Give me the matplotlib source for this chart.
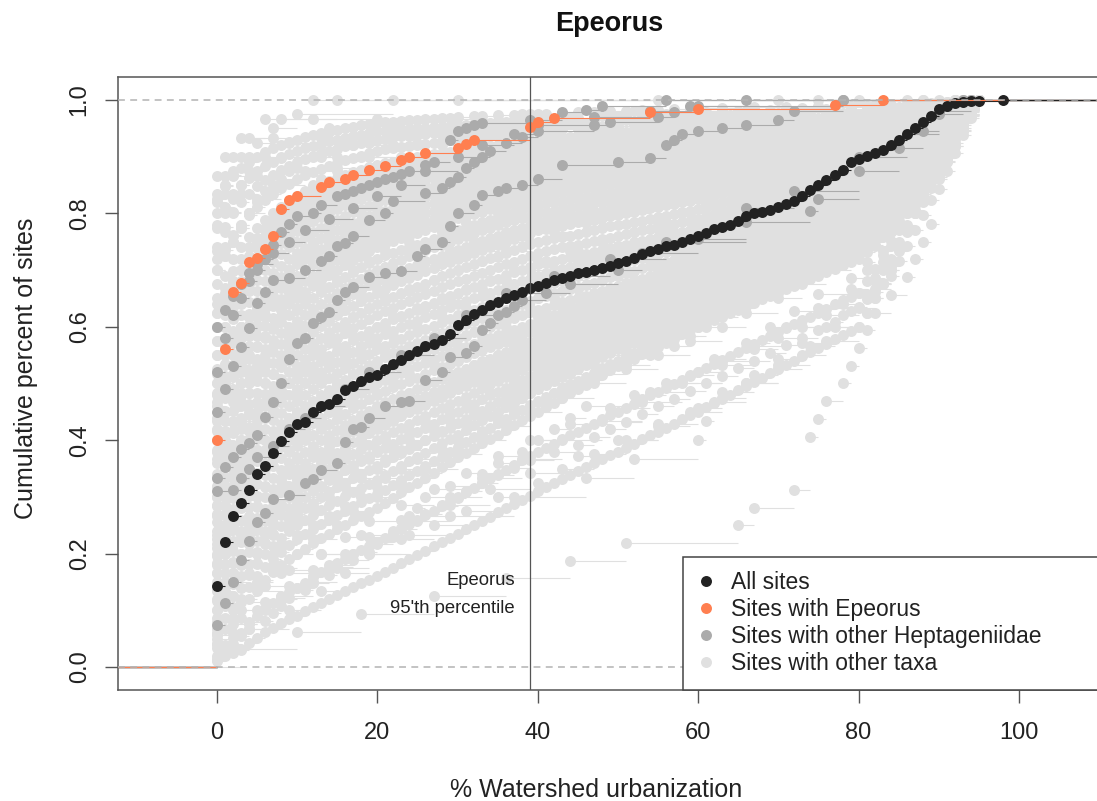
import numpy as np
import matplotlib
matplotlib.use("Agg")
import matplotlib.pyplot as plt
from matplotlib.lines import Line2D

plt.rcParams["font.family"] = ["Liberation Sans", "DejaVu Sans"]

LIGHT = "#E0E0E0"   # sites with other taxa
DARK = "#ABABAB"    # sites with other Heptageniidae
BLACK = "#222222"   # all sites
ORANGE = "#FF7F50"  # sites with Epeorus

# ---------------- data ----------------
# ECDF knots, % watershed urbanization vs cumulative fraction of sites
epeorus_x = [0, 1, 2, 3, 4, 5, 6, 7, 8, 9, 10, 13, 14, 16, 17, 19, 21, 23, 24, 26,
             30, 31, 32, 39, 40, 42, 54, 60, 77, 83]
epeorus_y = [0.40, 0.561, 0.661, 0.678, 0.715, 0.722, 0.738, 0.761, 0.807, 0.824,
             0.831, 0.847, 0.855, 0.861, 0.868, 0.877, 0.884, 0.894, 0.899, 0.907,
             0.915, 0.923, 0.929, 0.953, 0.962, 0.969, 0.978, 0.984, 0.992, 1.0]

all_x = ("0 1 2 3 4 5 6 7 8 9 10 11 12 13 14 15 16 17 18 19 20 21 22 23 24 25 26 27 28 29 "
         "30 31 32 33 34 35 36 37 38 39 40 41 42 43 44 45 46 47 48 49 50 51 52 53 54 55 56 "
         "57 58 59 60 61 62 63 64 65 66 67 68 69 70 71 72 73 74 75 76 77 78 79 80 81 82 83 "
         "84 85 86 87 88 89 90 91 92 93 94 95 98")
all_y = [0.143, 0.221, 0.266, 0.290, 0.312, 0.340, 0.354, 0.378, 0.399, 0.414,
         0.428, 0.432, 0.449, 0.460, 0.463, 0.472, 0.489, 0.496, 0.505, 0.512,
         0.515, 0.525, 0.535, 0.542, 0.550, 0.558, 0.566, 0.570, 0.576, 0.588,
         0.603, 0.612, 0.622, 0.630, 0.638, 0.644, 0.650, 0.656, 0.662, 0.668,
         0.672, 0.677, 0.682, 0.686, 0.690, 0.694, 0.697, 0.700, 0.703, 0.707,
         0.712, 0.716, 0.722, 0.728, 0.733, 0.738, 0.742, 0.745, 0.750, 0.754,
         0.760, 0.766, 0.772, 0.776, 0.780, 0.786, 0.796, 0.800, 0.803, 0.806,
         0.812, 0.816, 0.822, 0.830, 0.841, 0.850, 0.859, 0.868, 0.877, 0.890,
         0.896, 0.902, 0.906, 0.912, 0.921, 0.930, 0.940, 0.950, 0.961, 0.972,
         0.984, 0.990, 0.994, 0.997, 0.998, 0.999, 1.0]

heptag_x = [
    [0, 1, 2, 3, 4, 5, 6, 7, 8, 9, 10, 12, 13, 15, 16, 17, 18, 19, 20, 21, 22, 23, 24, 26,
     27, 29, 30, 31, 32, 33, 39, 43, 46, 48, 56],
    [0, 1, 2, 3, 4, 5, 6, 7, 9, 11, 13, 14, 15, 16, 17, 19, 21, 22, 26, 28, 29, 30, 31, 32,
     33, 34, 36, 38, 40, 47, 49, 55, 57, 60, 78],
    [0, 1, 2, 3, 4, 5, 6, 7, 8, 9, 10, 11, 12, 13, 14, 15, 16, 17, 19, 21, 23, 25, 26, 28,
     29, 30, 32, 33, 35, 36, 38, 40, 43, 50, 54, 56, 57, 58, 60, 63, 66, 70, 72, 78],
    [0, 1, 2, 3, 4, 5, 6, 7, 9, 11, 12, 13, 15, 16, 17, 18, 19, 21, 23, 24, 26, 28, 29, 31,
     32, 33, 34, 35, 36, 37, 38, 41, 44, 50, 53, 60, 66, 74, 75, 80, 85, 88, 90, 93],
    [0, 2, 3, 4, 5, 7, 9, 11, 13, 16, 19, 23, 27, 31, 36, 42, 49, 56, 66, 72, 80, 86, 90, 94],
    [0, 1, 2, 3, 4, 5, 7, 9, 11, 14, 17, 20, 23, 26, 30, 33, 37, 40, 47, 54, 59, 66],
]
heptag_y = [
    [0.52, 0.58, 0.62, 0.65, 0.68, 0.70, 0.72, 0.745, 0.768, 0.782, 0.795, 0.80, 0.815,
     0.83, 0.835, 0.84, 0.845, 0.85, 0.855, 0.86, 0.865, 0.87, 0.875, 0.885, 0.89, 0.93,
     0.945, 0.95, 0.955, 0.96, 0.965, 0.979, 0.983, 0.99, 1.0],
    [0.45, 0.49, 0.53, 0.565, 0.598, 0.642, 0.662, 0.683, 0.686, 0.70, 0.716, 0.724, 0.742,
     0.748, 0.761, 0.788, 0.80, 0.822, 0.836, 0.845, 0.855, 0.865, 0.88, 0.89, 0.90, 0.91,
     0.925, 0.935, 0.945, 0.955, 0.962, 0.97, 0.978, 0.99, 1.0],
    [0.333, 0.353, 0.37, 0.385, 0.395, 0.409, 0.441, 0.468, 0.50, 0.543, 0.572, 0.581,
     0.606, 0.618, 0.626, 0.648, 0.661, 0.671, 0.688, 0.694, 0.698, 0.724, 0.738, 0.75,
     0.778, 0.80, 0.815, 0.832, 0.84, 0.845, 0.85, 0.86, 0.886, 0.89, 0.897, 0.92, 0.93,
     0.94, 0.945, 0.95, 0.955, 0.965, 0.98, 1.0],
    [0.074, 0.113, 0.15, 0.189, 0.222, 0.256, 0.271, 0.297, 0.303, 0.324, 0.331, 0.347,
     0.359, 0.397, 0.419, 0.424, 0.44, 0.46, 0.468, 0.47, 0.506, 0.521, 0.547, 0.554,
     0.566, 0.594, 0.607, 0.621, 0.626, 0.637, 0.647, 0.66, 0.675, 0.70, 0.73, 0.755,
     0.785, 0.805, 0.825, 0.875, 0.915, 0.945, 0.975, 1.0],
    [0.31, 0.312, 0.333, 0.35, 0.37, 0.39, 0.42, 0.44, 0.46, 0.49, 0.52, 0.55, 0.58, 0.62,
     0.66, 0.69, 0.72, 0.75, 0.81, 0.84, 0.90, 0.94, 0.98, 1.0],
    [0.60, 0.63, 0.655, 0.675, 0.695, 0.71, 0.73, 0.75, 0.77, 0.79, 0.81, 0.83, 0.85, 0.875,
     0.90, 0.92, 0.94, 0.955, 0.97, 0.98, 0.99, 1.0],
]

# other taxa, large ones: sites at 0 % urbanization, then number of sites at 1 %, 2 %, ... 95 %
dense_zero = [820, 780, 740, 700, 650, 625, 600, 575, 550, 525, 500, 480, 460, 440, 420, 400,
              380, 360, 340, 320, 300, 285, 270, 255, 240, 225, 210, 195, 180, 165, 150, 135,
              120, 100, 80, 60, 40, 20, 10]
dense_counts = [
    "28 19 13 11 9 8 7 6 5 4 4 4 3 3 3 3 3 3 2 2 1 1 1 1 1 1 1 1 1 1 0 1 1 0 1 0 1 0 1 0 "
    "1 0 1 0 1 0 1 0 1 0 1 0 1 0 1 0 1 0 1 0 0 0 1 0 0 0 1 0 0 0 1 0 0 0 1 0 0 0 1 0 "
    "0 1 0 1 0 1 0 1 0 1 1 1 1 1 1",
    "32 22 16 13 11 9 8 7 6 6 5 4 4 4 3 3 3 3 3 3 1 1 1 1 1 1 1 1 1 1 1 1 1 1 1 1 1 1 1 1 "
    "1 1 0 1 1 0 1 1 0 1 1 0 1 1 0 1 1 0 1 0 1 0 1 0 1 0 1 0 1 0 1 0 1 0 1 0 1 0 1 0 "
    "1 0 1 1 0 1 1 0 1 1 1 1 1 1 1",
    "36 26 18 15 13 11 9 8 7 7 6 5 5 4 4 4 3 3 3 3 2 2 2 1 2 1 1 1 1 1 1 1 1 1 1 1 1 1 1 2 "
    "1 1 1 0 1 1 1 0 1 1 1 0 1 1 1 0 1 1 1 0 1 1 0 1 1 0 1 1 0 1 1 0 1 1 0 1 1 0 1 0 "
    "1 1 1 1 1 1 1 1 1 1 2 2 1 1 1",
    "36 26 18 17 15 12 11 9 8 8 7 6 6 5 5 5 4 4 4 4 3 2 2 2 2 2 2 2 2 2 2 1 2 1 2 1 2 1 1 1 "
    "1 1 1 0 1 1 1 1 1 1 0 1 1 1 1 1 1 0 1 1 1 1 1 1 0 1 1 1 1 0 1 1 1 1 0 1 1 1 1 0 "
    "1 1 1 1 1 1 1 2 1 2 3 2 2 2 1",
    "40 29 21 19 16 14 12 11 9 9 8 7 6 6 6 5 5 4 4 4 3 3 3 3 3 3 2 2 2 2 2 2 2 2 2 2 2 2 1 2 "
    "2 1 1 1 1 1 1 1 1 1 2 1 1 1 1 1 1 1 1 1 1 1 1 1 1 1 1 1 1 1 1 1 1 1 1 1 1 1 1 1 "
    "1 2 1 2 1 2 1 2 2 2 3 3 2 2 2",
    "44 30 21 20 17 15 13 11 10 9 8 7 7 6 6 5 5 5 4 4 4 3 3 3 3 3 3 3 2 2 3 2 2 2 2 2 2 2 2 2 "
    "2 1 1 1 2 1 1 1 2 1 1 1 2 1 1 1 1 1 1 1 1 1 1 1 1 2 1 1 1 1 1 1 1 1 1 2 1 1 1 1 "
    "1 2 1 2 2 2 2 2 2 2 4 3 3 2 2",
    "45 32 23 21 18 15 13 12 11 10 8 7 7 6 6 6 5 5 5 5 4 4 3 3 3 3 3 3 3 3 3 3 2 2 2 2 2 2 3 2 "
    "2 2 1 1 1 1 2 1 1 1 1 2 1 1 1 1 2 1 1 1 2 1 1 1 2 1 1 1 2 1 1 1 2 1 1 1 2 1 1 1 "
    "2 2 2 2 2 2 2 2 2 2 4 3 3 3 2",
    "48 34 23 22 19 16 14 13 11 10 9 8 7 7 6 6 5 5 5 4 4 4 4 3 3 3 3 3 3 3 3 3 3 3 3 3 3 2 2 2 "
    "2 1 2 1 2 1 1 2 1 1 2 1 1 2 1 1 2 1 1 1 1 2 1 1 2 1 1 2 1 1 2 1 1 2 1 1 2 1 2 2 "
    "2 2 2 2 2 2 2 2 3 3 4 4 3 3 2",
    "50 35 25 23 20 17 15 13 12 10 9 8 8 7 7 6 6 5 5 4 4 4 4 4 4 4 4 3 3 3 3 3 3 3 3 3 3 3 2 2 "
    "2 2 2 2 1 2 1 2 1 2 1 1 1 1 1 2 1 1 1 2 2 1 2 1 2 1 2 1 2 1 2 1 2 1 2 1 2 1 2 1 "
    "2 2 2 2 3 2 3 2 3 3 5 4 4 3 2",
    "52 37 26 23 20 17 15 13 12 10 9 8 8 7 7 7 6 6 5 5 5 4 4 4 4 4 4 4 4 4 3 3 3 3 3 3 3 3 3 4 "
    "2 2 1 2 1 2 1 2 1 2 1 2 1 2 1 2 1 2 1 2 2 1 2 2 1 2 2 1 2 2 1 2 2 1 2 2 1 2 1 2 "
    "2 2 2 3 3 3 3 3 2 3 5 4 4 4 3",
    "54 38 28 23 20 17 15 13 12 10 9 9 8 7 7 7 6 6 6 5 5 5 5 5 5 4 4 4 4 4 4 4 4 4 4 3 3 3 3 3 "
    "2 2 1 2 2 1 2 2 1 2 2 1 2 2 1 2 2 1 2 1 2 2 2 1 2 2 2 2 2 1 2 2 2 2 2 1 2 2 2 2 "
    "2 2 3 3 3 3 3 3 3 3 6 5 4 4 3",
    "54 38 28 23 20 17 15 13 12 10 10 9 8 8 8 7 7 6 6 6 5 5 5 5 5 4 4 4 4 4 4 4 4 4 4 4 4 4 3 3 "
    "2 2 1 2 2 2 2 1 2 2 2 2 1 2 2 2 2 1 2 2 2 2 3 2 2 2 2 2 2 2 2 2 2 2 2 2 2 2 2 2 "
    "3 3 3 3 3 3 3 3 4 4 6 5 5 4 3",
    "54 38 28 23 20 17 15 13 12 10 10 10 9 8 8 8 7 7 7 6 5 5 5 5 5 5 5 4 4 4 4 4 4 4 4 4 4 3 3 4 "
    "2 3 2 1 2 2 3 2 1 2 2 3 2 1 2 2 3 2 1 2 3 2 2 2 2 3 2 2 2 2 3 2 2 2 2 3 2 2 2 3 "
    "3 3 3 3 4 3 4 4 4 4 7 6 5 4 3",
    "54 38 28 24 20 17 15 13 11 10 10 10 9 9 9 8 8 8 7 7 5 5 5 5 5 5 5 5 4 4 4 4 4 4 4 4 4 4 4 3 "
    "2 2 3 3 2 2 2 2 2 3 3 2 2 2 2 2 2 2 2 1 3 2 3 2 3 2 3 2 3 2 3 2 3 2 3 2 3 2 3 2 "
    "3 3 4 4 4 4 4 4 3 4 7 6 6 5 4",
    "54 38 28 24 20 17 15 13 11 10 11 11 10 9 9 9 8 8 8 7 6 5 5 5 5 5 5 5 5 5 4 4 4 4 4 4 4 4 4 3 "
    "3 2 2 2 3 2 2 2 3 2 2 2 3 2 2 2 3 2 2 2 3 3 3 3 3 2 3 3 2 3 3 2 3 3 2 3 3 2 3 3 "
    "4 4 4 4 4 4 4 4 4 4 8 7 6 5 4",
    "52 39 29 23 21 17 15 13 11 10 11 10 10 9 9 9 9 8 8 7 6 5 5 5 4 5 5 5 5 5 5 5 5 4 5 5 4 4 4 4 "
    "3 2 2 3 2 2 3 2 2 3 2 2 3 2 2 3 2 2 3 3 3 3 4 3 2 3 3 4 3 2 3 3 4 3 2 3 3 4 3 2 "
    "4 4 4 4 5 5 5 5 4 5 8 7 6 6 5",
    "54 38 28 24 20 17 15 13 11 10 11 10 10 10 9 9 8 8 8 7 6 6 6 6 6 5 5 5 5 5 5 5 5 5 5 4 4 4 4 4 "
    "3 2 3 2 3 2 3 2 3 2 3 2 3 2 3 2 3 2 3 2 3 3 3 4 3 4 3 3 3 3 4 3 3 3 3 4 3 3 3 4 "
    "4 4 5 5 5 5 5 5 6 6 9 8 7 6 5",
    "54 38 28 24 20 17 15 13 11 10 11 10 10 9 9 9 9 8 8 7 6 6 6 6 5 6 5 5 5 5 6 5 5 5 4 5 5 5 5 5 "
    "3 2 3 2 3 2 3 2 3 2 3 2 3 2 3 2 3 3 3 3 4 3 4 3 4 3 4 3 4 3 4 3 4 3 4 3 4 3 4 3 "
    "5 5 5 5 6 6 6 6 5 6 9 8 8 7 6",
    "54 38 28 24 20 17 15 13 11 10 11 10 10 10 9 9 8 8 8 7 7 7 6 6 6 6 6 6 5 5 5 5 5 5 5 5 5 5 5 5 "
    "3 3 2 3 3 3 2 3 3 3 2 3 3 3 2 3 3 3 2 3 4 3 4 4 4 3 4 4 4 3 4 4 4 3 4 4 4 3 4 4 "
    "5 5 6 6 6 6 6 6 7 7 10 9 8 7 6",
    "54 38 28 24 20 17 15 13 11 10 11 10 10 9 9 9 9 8 8 7 6 7 6 5 6 6 7 6 5 6 5 5 6 5 4 5 5 6 5 4 "
    "3 3 2 3 3 3 4 3 3 2 3 3 2 3 3 3 3 3 2 3 4 4 5 4 4 4 4 5 4 4 4 4 5 4 4 4 4 5 4 3 "
    "6 6 6 7 7 7 7 7 7 8 10 9 9 8 6",
    "52 40 28 25 19 17 14 13 12 10 11 10 10 10 9 9 8 8 8 7 7 7 6 6 6 6 6 6 5 5 5 5 5 5 5 5 5 5 5 5 "
    "3 4 3 2 3 3 4 3 2 3 3 4 3 2 3 3 4 3 2 3 5 4 5 4 5 4 5 4 5 4 5 4 5 4 5 4 5 4 5 4 "
    "6 6 7 7 7 8 8 8 9 9 11 10 9 8 7",
    "50 38 27 23 20 17 15 13 12 10 10 10 10 9 9 9 9 8 8 8 7 6 6 6 5 6 6 6 6 6 5 5 5 5 5 6 5 5 5 4 "
    "3 3 3 4 3 3 3 4 3 3 3 4 3 3 3 4 3 3 3 4 5 4 5 5 5 6 5 4 5 5 5 6 5 4 5 4 5 4 4 4 "
    "7 7 8 8 8 9 9 9 9 9 12 10 9 8 8",
    "50 35 25 23 20 17 15 13 12 10 10 10 10 9 9 9 9 8 8 8 7 6 6 6 6 6 6 6 6 5 5 5 5 5 5 5 5 5 5 5 "
    "4 4 4 4 4 4 4 4 4 4 3 3 3 3 3 3 3 3 3 3 5 5 6 5 4 5 5 6 5 4 5 5 6 5 4 5 5 6 5 4 "
    "7 8 8 9 9 9 10 10 10 10 12 11 10 9 8",
    "47 34 24 23 20 17 15 13 12 10 10 10 10 9 9 9 9 8 8 8 6 6 6 7 6 5 6 6 6 6 5 5 5 5 5 5 5 6 5 4 "
    "4 4 3 4 4 4 5 4 4 3 4 4 4 3 4 4 4 3 4 2 5 5 6 5 5 5 5 6 5 5 5 5 6 5 5 5 5 6 5 6 "
    "8 9 9 9 10 10 10 10 10 10 13 12 11 10 9",
    "45 32 23 23 20 17 15 13 12 10 10 10 10 9 9 9 9 8 8 8 7 6 6 6 6 6 6 6 6 5 5 5 5 5 5 5 5 5 5 5 "
    "4 4 5 4 3 4 4 5 4 3 4 4 5 4 3 4 4 5 4 3 6 5 6 5 6 5 6 5 6 5 6 5 6 5 6 5 6 5 6 5 "
    "8 9 9 10 10 10 11 11 11 11 14 13 12 11 10",
    "43 30 22 23 20 17 15 13 12 10 10 10 10 9 9 9 9 8 8 8 5 6 7 6 6 5 6 7 6 6 5 5 6 5 4 5 5 6 5 4 "
    "4 4 5 4 4 4 5 4 4 4 5 4 4 4 5 4 4 4 5 4 5 6 6 6 6 5 6 6 6 6 5 6 6 6 6 5 6 6 5 6 "
    "9 9 10 10 11 11 11 11 11 12 15 14 13 12 11",
    "40 29 21 22 20 17 15 14 12 10 10 10 10 9 9 9 9 8 8 8 6 6 7 6 5 6 6 7 6 5 5 5 5 5 5 5 5 5 5 5 "
    "5 5 5 5 5 5 5 5 5 5 4 4 4 4 4 4 4 4 4 4 6 6 7 6 5 6 6 7 6 5 6 6 7 6 5 6 6 7 6 5 "
    "9 10 10 11 11 11 12 12 12 12 16 15 14 13 12",
    "38 27 20 22 20 17 15 14 12 10 10 10 10 9 9 9 9 8 8 8 6 7 6 5 6 6 7 6 5 6 6 7 6 5 6 5 6 5 5 4 "
    "5 5 6 5 4 5 5 6 5 4 5 5 6 5 4 4 5 5 4 2 6 6 7 6 5 6 6 7 6 5 6 6 7 6 5 6 6 7 6 5 "
    "10 10 11 11 12 12 12 12 12 13 17 16 15 14 13",
    "36 26 18 22 20 17 15 14 12 10 10 10 10 9 9 9 9 8 8 8 6 7 6 5 6 6 7 6 5 6 6 7 6 5 6 6 7 6 5 6 "
    "5 5 6 5 4 5 5 6 5 4 5 5 6 5 4 5 5 6 5 4 6 6 7 6 5 6 6 7 6 5 6 6 7 6 5 6 6 7 6 5 "
    "10 11 11 12 12 12 13 13 13 13 18 17 16 15 14",
    "34 24 17 22 20 17 15 14 12 10 10 10 10 9 9 9 9 8 8 8 7 6 6 7 6 6 7 6 6 7 6 6 7 6 6 6 6 6 6 6 "
    "5 6 5 5 6 5 5 6 5 5 6 5 5 5 5 5 5 5 5 6 6 7 6 5 6 6 7 6 5 6 6 7 6 5 6 6 7 6 5 6 "
    "11 11 12 12 13 13 13 13 13 14 19 18 17 16 15",
    "32 22 16 22 20 17 15 14 12 10 10 10 10 9 9 9 9 8 8 8 7 7 8 7 6 7 7 8 7 6 6 6 7 6 5 6 6 7 6 5 "
    "6 6 7 6 5 6 6 7 6 5 5 5 6 5 4 5 5 6 5 4 6 6 7 6 5 6 6 7 6 5 6 6 7 6 5 6 6 7 6 5 "
    "11 12 12 13 13 13 14 14 14 14 20 19 18 17 16",
    "30 20 15 22 20 17 15 14 12 10 10 10 10 9 9 9 9 8 8 8 7 7 8 7 6 7 7 8 7 6 7 7 8 7 6 6 6 7 6 5 "
    "6 6 7 6 5 6 6 7 6 5 6 6 7 6 5 5 5 6 5 4 6 6 7 6 5 6 6 7 6 5 6 6 7 6 5 6 6 7 6 5 "
    "12 12 13 13 14 14 14 14 14 15 21 20 19 18 17",
    "27 19 14 22 20 17 15 14 12 10 10 10 10 9 9 9 9 8 8 8 7 7 8 7 6 7 7 8 7 6 7 7 8 7 6 7 7 8 7 6 "
    "6 6 7 6 5 6 6 7 6 5 6 6 7 6 5 6 6 7 6 5 6 6 7 6 5 6 6 7 6 5 6 6 7 6 5 6 6 7 6 5 "
    "12 13 13 14 14 14 15 15 15 15 22 21 20 19 18",
    "27 19 14 22 20 17 15 14 12 10 10 10 9 9 9 8 8 8 7 7 7 8 8 7 7 8 8 7 7 8 8 7 7 8 8 7 7 8 7 8 "
    "6 6 7 6 6 7 6 6 7 6 6 7 6 6 7 6 6 6 6 6 6 7 6 5 6 6 7 6 5 6 6 7 6 5 6 6 7 6 5 6 "
    "12 13 13 14 14 14 15 15 15 15 24 23 22 21 20",
    "27 19 14 22 20 17 15 14 12 10 9 9 9 8 8 8 8 7 7 7 8 8 9 8 7 8 8 9 8 7 8 8 9 8 7 8 8 9 8 7 "
    "7 7 8 7 6 7 7 8 7 6 6 6 7 6 5 6 6 7 6 5 6 6 7 6 5 6 6 7 6 5 6 6 7 6 5 6 6 7 6 5 "
    "12 13 13 14 14 14 15 15 15 15 26 25 24 23 22",
    "27 19 14 21 19 16 14 13 12 10 9 9 9 8 8 8 8 7 7 7 8 8 9 8 8 9 8 8 9 8 8 9 8 8 9 8 8 8 8 8 "
    "7 7 8 7 6 7 7 8 7 6 7 7 8 7 6 7 7 8 7 6 6 6 7 6 5 6 6 7 6 5 6 6 7 6 5 6 6 7 6 5 "
    "12 13 13 14 14 14 15 15 15 15 28 27 26 25 24",
    "27 19 14 20 18 16 14 12 11 9 9 9 9 8 8 8 8 7 7 7 9 9 10 9 8 9 9 10 9 8 8 8 9 8 7 8 8 9 8 7 "
    "8 8 9 8 7 8 8 9 8 7 7 7 8 7 6 7 7 8 7 6 6 6 7 6 5 6 6 7 6 5 6 6 7 6 5 6 6 7 6 5 "
    "12 13 13 14 14 14 15 15 15 15 30 29 28 27 26",
    "18 13 9 16 14 12 11 10 9 8 9 9 9 8 8 8 8 7 7 7 8 8 9 8 7 8 8 9 8 7 8 8 9 8 7 8 8 9 8 7 "
    "7 7 8 7 6 7 7 8 7 6 7 7 8 7 6 7 7 8 7 6 7 8 7 6 7 7 8 7 6 7 7 8 7 6 7 7 8 7 6 7 "
    "20 22 24 26 27 28 28 26 25 24 22 20 18 16 14",
    "9 6 5 12 10 9 8 8 7 6 8 8 7 7 7 7 7 7 6 6 7 8 8 7 7 8 8 7 7 8 8 7 7 8 8 7 7 8 7 8 "
    "7 7 8 7 6 7 7 8 7 6 7 7 8 7 6 7 7 8 7 6 8 7 8 7 8 7 8 7 8 7 8 7 8 7 8 7 8 7 8 7 "
    "24 26 28 30 32 33 33 32 32 30 26 23 20 17 14",
]

# other taxa, smaller ones: sites at 0 % urbanization, then urbanization of the remaining sites
other_zero = [26, 25, 33, 24, 31, 22, 36, 28, 27, 32, 25, 30, 23, 33,
              31, 30, 29, 28, 26, 25, 24, 23, 22, 20, 19, 18, 17, 16, 14, 13, 12, 11, 10, 8, 7,
              4, 3, 2, 2, 2, 1, 1, 2, 0]
other_urb = [
    "1 3 6 12",
    "1 2 4 8 15",
    "1 2 3 5 7 10 22",
    "1 2 4 7 12 30",
    "1 2 3 4 6 9 14 38 70",
    "1 2 3 5 8 13 20 55",
    "1 2 3 4 5 6 8 10 13 17 24 45 66 88",
    "1 2 3 4 5 7 9 12 16 22 40 90",
    "1 1 2 3 4 6 8 11 15 19 28 47 80",
    "1 2 3 4 5 6 7 8 9 11 13 15 18 22 28 36 52 75",
    "1 2 3 4 5 6 8 10 12 15 19 25 35 60 92",
    "1 2 3 4 5 6 7 8 9 10 12 14 16 19 23 28 34 44 63 94",
    "1 2 3 4 5 6 7 9 11 13 16 20 26 33 48 70 86",
    "1 2 3 4 5 6 7 8 9 10 11 12 14 16 18 20 23 26 30 35 41 48 56 65 76 86 95",
    "1 1 2 2 3 4 5 6 7 8 9 10 12 14 16 18 20 23 27 31 35 39 44 49 54 59 67 76 88",
    "1 1 2 3 3 4 5 6 7 9 10 11 13 15 17 19 22 26 30 34 38 43 48 53 58 64 70 77 84 92",
    "1 2 2 3 4 5 5 6 8 9 10 12 14 16 18 20 21 25 29 33 37 42 47 52 57 62 67 72 78 86 94",
    "1 1 2 3 4 5 6 7 8 10 11 13 15 17 19 21 24 28 31 35 38 41 45 50 54 59 63 68 73 79 85 93",
    "1 2 2 3 4 5 6 7 9 10 12 14 16 18 20 22 26 29 32 36 40 42 46 51 55 60 64 69 74 79 82 86 91 95",
    "1 1 2 3 4 5 6 8 9 10 11 13 15 18 20 21 24 28 31 35 39 43 47 51 56 60 62 66 70 75 80 83 86 89 92",
    "1 2 3 3 4 6 7 8 10 12 14 16 17 19 21 24 27 30 33 36 39 42 46 50 54 58 62 67 71 75 79 82 85 88 91 94",
    "1 2 3 4 5 7 8 10 11 13 15 17 20 22 25 28 31 34 37 40 44 48 52 56 59 61 65 68 72 76 80 82 85 87 90 92 95",
    "1 2 2 3 5 6 8 9 12 14 16 18 19 21 23 26 29 33 36 39 41 45 48 52 55 58 62 65 69 72 75 78 81 84 86 88 90 93",
    "1 1 2 3 4 5 7 8 10 11 13 16 18 20 22 25 28 31 34 36 39 42 45 49 53 56 60 63 66 70 73 77 80 81 83 85 87 89 92 95",
    "1 2 3 4 6 7 9 10 12 14 15 17 20 21 24 27 30 33 37 40 41 44 47 50 53 57 60 62 65 68 71 74 77 80 82 84 86 88 90 92 94",
    "1 2 3 4 5 7 8 10 11 13 15 18 19 22 25 28 31 34 37 39 42 45 48 51 54 57 59 61 64 67 70 73 76 79 81 83 85 87 89 91 93 95",
    "1 2 2 4 5 6 8 9 12 14 16 17 19 21 23 26 30 33 36 40 43 46 49 52 55 58 60 63 66 69 72 74 77 79 81 82 84 85 87 88 90 91 93",
    "1 2 3 4 6 7 9 10 11 13 15 17 20 22 24 27 30 34 37 40 41 44 47 51 54 57 60 62 64 67 70 72 75 77 80 82 84 85 87 88 90 92 93 95",
    "1 2 3 5 6 8 9 10 12 14 16 18 20 21 24 26 29 32 35 37 40 42 45 48 51 54 57 59 61 64 66 69 72 74 77 79 81 82 83 85 86 88 89 91 92 94",
    "1 2 4 5 7 8 10 11 13 14 16 18 20 22 25 27 30 32 35 37 39 42 45 48 51 54 56 59 61 63 65 68 70 72 75 77 80 81 83 84 86 87 88 90 91 93 95",
    "1 3 4 6 7 9 10 11 12 14 16 18 19 21 23 26 28 31 34 36 39 41 44 47 50 53 56 59 61 63 66 68 70 73 75 77 79 81 82 83 84 86 87 88 90 91 93 95",
    "1 2 4 5 7 8 10 12 14 16 18 20 21 24 26 29 31 34 37 40 43 46 49 52 55 57 60 61 63 65 67 69 71 73 75 77 79 81 82 83 84 85 86 87 88 89 90 92 94",
    "2 3 4 6 7 9 10 11 13 15 17 19 22 24 27 29 32 35 37 40 42 45 48 51 54 57 60 62 64 66 68 70 72 74 76 78 80 81 82 83 84 85 86 87 88 89 90 91 93 95",
    "1 2 3 5 6 7 9 10 12 14 16 18 20 21 23 26 28 31 33 36 39 41 44 47 51 54 57 60 61 63 65 67 70 72 74 76 78 80 81 82 83 84 85 86 87 87 88 89 90 91 93 95",
    "1 2 4 5 7 8 10 12 14 16 18 20 21 23 25 28 30 33 35 37 40 42 45 48 51 54 57 59 61 63 65 67 69 71 73 75 77 79 81 82 83 84 84 85 86 87 88 89 90 91 92 94 95",
    "2 5 7 10 12 15 17 20 23 26 30 33 36 39 43 47 51 55 59 63 66 70 73 76 79 81 83 84 85 86 87 88 89 91 93 95",
    "3 6 9 13 16 19 23 27 31 35 39 44 49 54 59 62 66 69 72 75 79 81 82 84 85 86 87 88 89 90 92 94",
    "2 5 8 13 18 24 29 33 38 43 48 53 58 63 67 71 75 79 81 83 84 85 86 87 88 89 91 93",
    "3 6 9 12 16 19 24 29 34 39 45 50 55 60 63 67 70 73 76 79 81 82 83 84 85 86 87 88 89 90 91 93 95",
    "2 5 8 12 15 19 23 27 31 35 40 43 47 51 55 59 63 66 70 73 76 80 81 82 83 84 85 85 86 87 88 88 89 90 90 91 92 92",
    "4 9 13 16 19 24 29 37 46 52 60 61 62 66 70 74 77 80 82 84 85 86 87 88 89 90 91 92 94",
    "1 2 3 4 6 7 8 9 11 12 14 15 17 19 20 22 23 25 26 28 30 31 33 35 37 39 42 45 47 49 51 53 55 57 "
    "59 61 63 65 67 69 71 73 75 77 78 80 81 82 83 84 85 85 86 86 87 87 88 88 89 89 90 90 90 91 91 "
    "92 92 93 93 94 94 95 95",
    "2 4 6 8 10 12 14 17 20 22 23 25 26 29 33 35 38 40 42 44 46 52 56 60 63 67 70 73 76 78 80 "
    "82 83 84 85 86 86 87 88 89 89 90 91 91 92 93 94 95",
    "3 10 18 27 36 44 51 65 67 72 74 74 74 75 76 78 79 80 81 82 84 86 87 88 89 90 90 91 92 93 94 95",
]

XLO, XHI = -12.39, 110.39


def ecdf(zero_count, urb):
    vals = np.array([0.0] * zero_count + [float(v) for v in urb.split()])
    xs, counts = np.unique(vals, return_counts=True)
    return xs, np.cumsum(counts) / len(vals)


def ecdf_from_counts(zero_count, counts):
    c = np.array([zero_count] + [int(v) for v in counts.split()])
    pct = np.arange(len(c))          # 0 %, 1 %, 2 %, ...
    cum = np.cumsum(c) / c.sum()
    keep = c > 0
    return pct[keep], cum[keep]


def draw_steps(ax, xs, ys, color, z):
    # like R plot.ecdf(verticals = FALSE): horizontal steps + points at the knots
    xs = np.asarray(xs, float)
    ys = np.asarray(ys, float)
    left = np.concatenate([[XLO], xs])
    right = np.concatenate([xs, [XHI]])
    levels = np.concatenate([[0.0], ys])
    ax.hlines(levels, left, right, colors=color, lw=0.8, zorder=z)
    ax.plot(xs, ys, "o", ls="none", color=color, ms=7.9, mew=0, zorder=z)


fig = plt.figure(figsize=(10.97, 8.01), dpi=100)
ax = fig.add_axes([117.6 / 1097, 1 - 689.7 / 801, (1102.3 - 117.6) / 1097, (689.7 - 77.3) / 801])

for zc, cnt in zip(dense_zero, dense_counts):
    xs, ys = ecdf_from_counts(zc, cnt)
    draw_steps(ax, xs, ys, LIGHT, 2)
for zc, urb in zip(other_zero, other_urb):
    xs, ys = ecdf(zc, urb)
    draw_steps(ax, xs, ys, LIGHT, 2)

for hx, hy in zip(heptag_x, heptag_y):
    draw_steps(ax, hx, hy, DARK, 3)

ax_x = [float(v) for v in all_x.split()]
draw_steps(ax, ax_x, all_y, BLACK, 4)
draw_steps(ax, epeorus_x, epeorus_y, ORANGE, 5)
# the all-sites line sits on top at the right end
ax.hlines(all_y[-1], ax_x[-1], XHI, colors=BLACK, lw=0.8, zorder=5.5)

ax.axhline(0, color="#B3B3B3", lw=1.1, ls=(0, (4.5, 3.5)), zorder=6)
ax.axhline(1, color="#B3B3B3", lw=1.1, ls=(0, (4.5, 3.5)), zorder=6)

# 95th percentile of the Epeorus sites
p95 = epeorus_x[int(np.argmax(np.array(epeorus_y) >= 0.95))]
ax.axvline(p95, color="#555555", lw=0.9, zorder=6)
ax.annotate("Epeorus", xy=(p95, 0.153), xytext=(-10.6, 0), textcoords="offset points",
            ha="right", va="center", fontsize=13.3, color="#222222", zorder=7)
ax.annotate("95'th percentile", xy=(p95, 0.103), xytext=(-10.6, 0), textcoords="offset points",
            ha="right", va="center", fontsize=13.3, color="#222222", zorder=7)

ax.set_xlim(XLO, XHI)
ax.set_ylim(-0.04, 1.04)
ax.set_xticks([0, 20, 40, 60, 80, 100])
ax.set_yticks([0.0, 0.2, 0.4, 0.6, 0.8, 1.0])
ax.set_yticklabels(["0.0", "0.2", "0.4", "0.6", "0.8", "1.0"], rotation=90, va="center")
ax.tick_params(axis="both", length=9.4, width=1.0, color="#555555", labelsize=17,
               labelcolor="#222222")
ax.tick_params(axis="x", pad=14)
ax.tick_params(axis="y", pad=10)
for sp in ax.spines.values():
    sp.set_color("#555555")
    sp.set_linewidth(1.1)

labels = ["All sites", "Sites with Epeorus", "Sites with other Heptageniidae",
          "Sites with other taxa"]
handles = [Line2D([], [], ls="none", marker="o", ms=7.9, mew=0, color=c)
           for c in (BLACK, ORANGE, DARK, LIGHT)]
x0 = (683 - 117.6) / (1102.3 - 117.6)
leg = ax.legend(handles, labels, loc="lower left", bbox_to_anchor=(x0, 0, 1 - x0, 0.3),
                mode="expand", borderaxespad=0, fontsize=16.5, frameon=True, fancybox=False,
                framealpha=1, edgecolor="#444444", borderpad=0.63, labelspacing=0.175,
                handlelength=0.78, handletextpad=0.67)
leg.get_frame().set_linewidth(1.1)
leg.set_zorder(10)
for t in leg.get_texts():
    t.set_color("#222222")

fig.text(609 / 1097, 1 - 31 / 801, "Epeorus", ha="center", va="baseline",
         fontsize=19.5, fontweight="bold", color="#111111")
fig.text(596 / 1097, 1 - 797 / 801, "% Watershed urbanization", ha="center", va="baseline",
         fontsize=18, color="#222222")
fig.text(26 / 1097, 1 - 368 / 801, "Cumulative percent of sites", ha="center", va="center",
         rotation=90, fontsize=18, color="#222222")

fig.savefig("out.png", dpi=100)
